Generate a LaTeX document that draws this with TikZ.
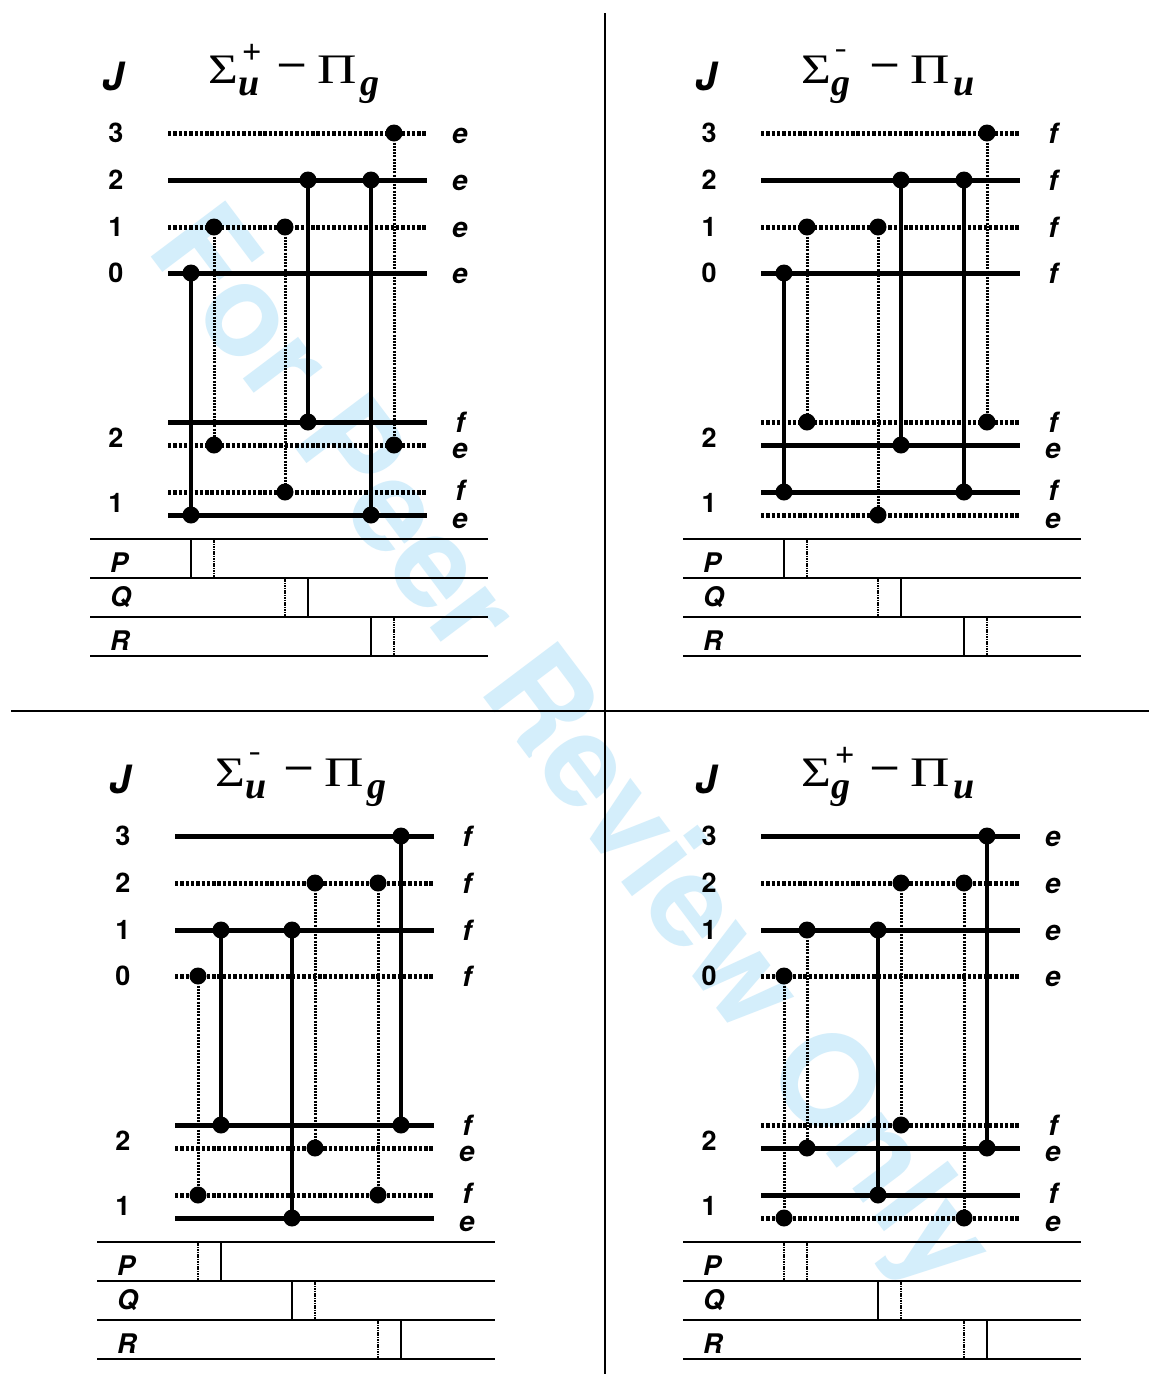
\documentclass[tikz,border=0pt]{standalone}
\usepackage{fontspec}
\setmainfont{TeX Gyre Heros}
\newfontfamily\tms{Liberation Serif}
\definecolor{wm}{RGB}{212,238,251}
\tikzset{
 x=1pt,y=-1pt,
 sollvl/.style={line width=5pt},
 dotlvl/.style={line width=5pt,dash pattern=on 3.4pt off 1.9pt},
 solv/.style={line width=3.8pt},
 dotv/.style={line width=3pt,dash pattern=on 2pt off 1.2pt},
 dotnode/.style={circle,fill=black,inner sep=0pt,minimum size=17pt},
 numlab/.style={font=\fontsize{27}{27}\selectfont\bfseries,anchor=base,inner sep=0pt},
 parlab/.style={font=\fontsize{28}{28}\selectfont\bfseries\itshape,anchor=base,inner sep=0pt},
 jlab/.style={font=\fontsize{39}{39}\selectfont\bfseries\itshape,anchor=base,inner sep=0pt},
 brlab/.style={font=\fontsize{27}{27}\selectfont\bfseries\itshape,anchor=base west,inner sep=0pt},
 tblline/.style={line width=1.6pt},
 tsol/.style={line width=2.4pt},
 tdot/.style={line width=2.6pt,dash pattern=on 1.5pt off 0.9pt},
 bigsym/.style={font=\tms\fontsize{42}{42}\selectfont,anchor=base west,inner sep=0pt},
 supsym/.style={font=\tms,anchor=base west,inner sep=0pt},
 subsym/.style={font=\tms\fontsize{38}{38}\selectfont\bfseries\itshape,anchor=base west,inner sep=0pt},
 divider/.style={line width=2pt},
}
\newcommand\supplus{\fontsize{34}{34}\selectfont\bfseries +}
\newcommand\supminus{\fontsize{32}{32}\selectfont\bfseries\scalebox{0.62}[1]{−}}
% #1 prefix, #2 shift, #3 levels, #4 transitions, #5 sup text, #6 sup baseline, #7 sub of Sigma, #8 sub of Pi
\newcommand\drawpanel[8]{%
\begin{scope}[shift={#2}]
 \node[jlab] (#1-J) at (113,90) {J};
 \node[bigsym] (#1-sig) at (208,83) {\scalebox{1.22}[1]{Σ}};
 \node[supsym] (#1-sup) at (242,#6) {#5};
 \node[subsym] (#1-subA) at (238,95) {#7};
 \node[bigsym] (#1-minus) at (276,79) {\bfseries\scalebox{1.3}[1]{−}};
 \node[bigsym] (#1-pi) at (317,83) {\scalebox{1.3}[1]{Π}};
 \node[subsym] (#1-subB) at (360,95) {#8};
 \foreach \n/\y [count=\k] in {3/142,2/189,1/236,0/282,2/447,1/512}
   \node[numlab] (#1-n\k) at (116,\y) {\n};
 \foreach \s/\y/\p/\b [count=\k] in {#3} {
   \coordinate (#1-a\k) at (168,\y);
   \coordinate (#1-b\k) at (427,\y);
   \draw[\s] (#1-a\k) -- (#1-b\k);
   \node[parlab] (#1-p\k) at (460,\b) {\p};
 }
 \foreach \y [count=\k] in {539,578,617,656} {
   \coordinate (#1-ta\k) at (90,\y);
   \coordinate (#1-tb\k) at (488,\y);
   \draw[tblline] (#1-ta\k) -- (#1-tb\k);
 }
 \node[brlab] (#1-P) at (110,572) {P};
 \node[brlab] (#1-Q) at (110,606) {Q};
 \node[brlab] (#1-R) at (110,650) {R};
 \foreach \x/\ya/\yb/\vs/\ts/\r [count=\k] in {#4} {
   \draw[\vs] (\x,\ya) coordinate (#1-vu\k) -- (\x,\yb) coordinate (#1-vd\k);
   \coordinate (#1-mu\k) at (\x,{539+39*(\r-1)});
   \coordinate (#1-md\k) at (\x,{578+39*(\r-1)});
   \draw[\ts] (#1-mu\k) -- (#1-md\k);
 }
 \foreach \x/\ya/\yb/\vs/\ts/\r [count=\k] in {#4} {
   \node[dotnode] (#1-u\k) at (#1-vu\k) {};
   \node[dotnode] (#1-d\k) at (#1-vd\k) {};
 }
\end{scope}}
\begin{document}
\begin{tikzpicture}
\useasboundingbox (0,0) rectangle (1149,1374);
\fill[white] (0,0) rectangle (1149,1374);
\node[font=\fontsize{128}{128}\selectfont\bfseries,text=wm,rotate=-53,inner sep=0pt] (wmark) at (566,752) {For Peer Review Only};
\coordinate (vd1) at (605,13);
\coordinate (vd2) at (605,1374);
\draw[divider] (vd1) -- (vd2);
\coordinate (hd1) at (11,711);
\coordinate (hd2) at (1149,711);
\draw[divider] (hd1) -- (hd2);
\drawpanel{tl}{(0,0)}{dotlvl/133/e/143,sollvl/180/e/190,dotlvl/227/e/237,sollvl/273/e/283,sollvl/422/f/432,dotlvl/445/e/458,dotlvl/492/f/500,sollvl/515/e/528}{191/273/515/solv/tsol/1,214/227/445/dotv/tdot/1,285/227/492/dotv/tdot/2,308/180/422/solv/tsol/2,371/180/515/solv/tsol/3,394/133/445/dotv/tdot/3}{\supplus}{63}{u}{g}
\drawpanel{tr}{(593,0)}{dotlvl/133/f/143,sollvl/180/f/190,dotlvl/227/f/237,sollvl/273/f/283,dotlvl/422/f/432,sollvl/445/e/458,sollvl/492/f/500,dotlvl/515/e/528}{191/273/492/solv/tsol/1,214/227/422/dotv/tdot/1,285/227/515/dotv/tdot/2,308/180/445/solv/tsol/2,371/180/492/solv/tsol/3,394/133/422/dotv/tdot/3}{\supminus}{61}{g}{u}
\drawpanel{bl}{(7,703)}{sollvl/133/f/143,dotlvl/180/f/190,sollvl/227/f/237,dotlvl/273/f/283,sollvl/422/f/432,dotlvl/445/e/458,dotlvl/492/f/500,sollvl/515/e/528}{191/273/492/dotv/tdot/1,214/227/422/solv/tsol/1,285/227/515/solv/tsol/2,308/180/445/dotv/tdot/2,371/180/492/dotv/tdot/3,394/133/422/solv/tsol/3}{\supminus}{61}{u}{g}
\drawpanel{br}{(593,703)}{sollvl/133/e/143,dotlvl/180/e/190,sollvl/227/e/237,dotlvl/273/e/283,dotlvl/422/f/432,sollvl/445/e/458,sollvl/492/f/500,dotlvl/515/e/528}{191/273/515/dotv/tdot/1,214/227/445/dotv/tdot/1,285/227/492/solv/tsol/2,308/180/422/dotv/tdot/2,371/180/515/dotv/tdot/3,394/133/445/solv/tsol/3}{\supplus}{63}{g}{u}
\end{tikzpicture}
\end{document}
